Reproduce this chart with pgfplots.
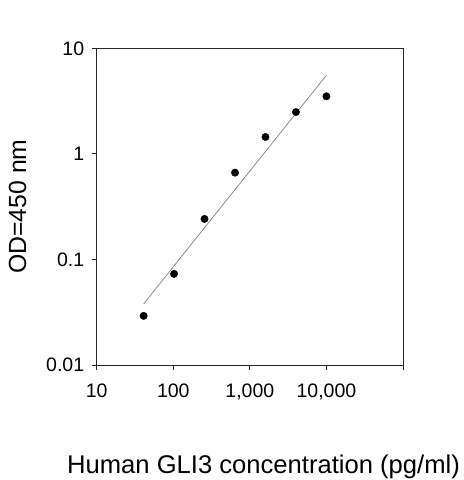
\documentclass[border=0pt]{standalone}
\usepackage{fontspec}
\setmainfont{Liberation Sans}
\usepackage{pgfplots}
\pgfplotsset{compat=1.18}

% standard curve, 2.5-fold dilutions
\pgfplotstableread{
conc   od
41     0.0292
102.4  0.073
256    0.242
640    0.664
1600   1.445
4000   2.49
10000  3.51
}\gliData

\begin{document}
\begin{tikzpicture}
\begin{axis}[
    scale only axis,
    width=306.3pt, height=316.7pt,
    xmode=log, ymode=log,
    xmin=10, xmax=100000,
    ymin=0.01, ymax=10,
    xtick={10,100,1000,10000,100000},
    xticklabels={10,100,{1,000},{10,000},{}},
    ytick={0.01,0.1,1,10},
    yticklabels={0.01,0.1,1,10},
    xminorticks=false, yminorticks=false,
    tick align=outside,
    major tick length=5pt,
    xtick pos=bottom, ytick pos=left,
    axis line style={line width=0.9pt, black!85},
    tick style={line width=0.9pt, black!85},
    /pgf/number format/assume math mode=true,
    tick label style={font=\fontsize{19.5}{21}\selectfont},
    xticklabel style={yshift=-10pt},
    yticklabel style={xshift=-4pt},
    xlabel={Human GLI3 concentration (pg/ml)},
    ylabel={OD=450 nm},
    xlabel style={font=\fontsize{25.6}{27}\selectfont, at={(axis description cs:0.5446,-0.341)}, anchor=base},
    ylabel style={font=\fontsize{24.8}{26}\selectfont, at={(axis description cs:-0.2308,0.5)}, anchor=base},
    clip=false,
]
\addplot[gray, line width=0.7pt] coordinates {(41,0.0379) (10000,5.55)};
\addplot[only marks, mark=*, mark size=3.7pt, black] table[x=conc, y=od] {\gliData};
\coordinate (bl) at (rel axis cs:0,0);
\coordinate (tr) at (rel axis cs:1,1);
\end{axis}
\pgfresetboundingbox
\path ([shift={(-96.7pt,-115pt)}]bl) rectangle ([shift={(60pt,48.3pt)}]tr);
\end{tikzpicture}
\end{document}
